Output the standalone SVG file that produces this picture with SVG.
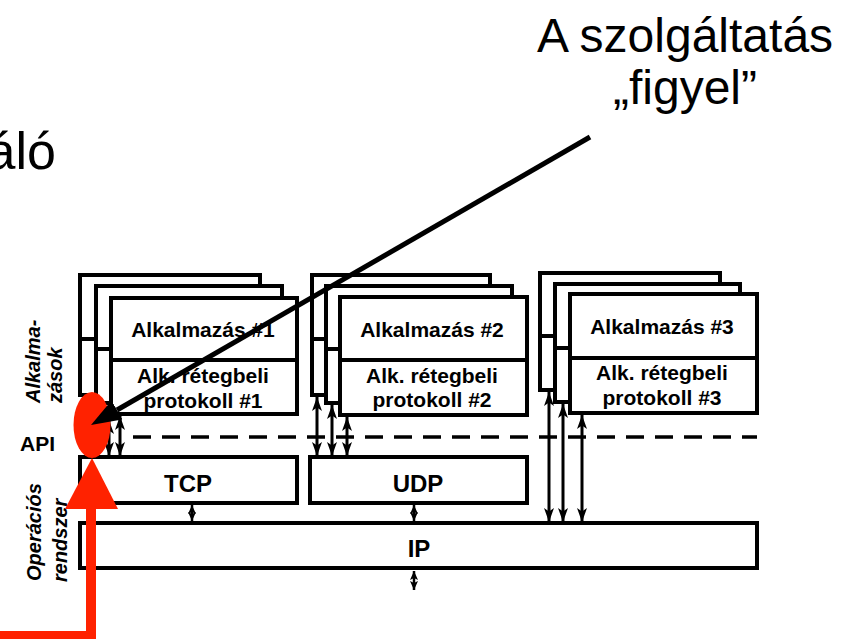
<svg xmlns="http://www.w3.org/2000/svg" width="845" height="639" viewBox="0 0 845 639">
<style>
.box{fill:#fff;stroke:#000;stroke-width:4}
.div{stroke:#000;stroke-width:4}
.lbl{font-family:"Liberation Sans",Arial,sans-serif;font-weight:bold;font-size:21px;text-anchor:middle;fill:#000}
.lay{font-family:"Liberation Sans",Arial,sans-serif;font-weight:bold;font-size:24px;text-anchor:middle;fill:#000}
.side{font-family:"Liberation Sans",Arial,sans-serif;font-weight:bold;font-style:italic;font-size:20px;fill:#000}
.big{font-family:"Liberation Sans",Arial,sans-serif;font-size:48px;fill:#000}
.va{stroke:#000;stroke-width:3;fill:none;marker-start:url(#ah);marker-end:url(#ah)}
.sa{stroke:#000;stroke-width:2.5;fill:none;marker-start:url(#sh);marker-end:url(#sh)}
</style>
<defs>
<marker id="ah" viewBox="0 0 14 10" refX="14" refY="5" markerWidth="14" markerHeight="10" markerUnits="userSpaceOnUse" orient="auto-start-reverse">
<path d="M0,0 L14,5 L0,10 L3.5,5 z" fill="#000"/>
</marker>
<marker id="sh" viewBox="0 0 9 8" refX="9" refY="4" markerWidth="9" markerHeight="8" markerUnits="userSpaceOnUse" orient="auto-start-reverse">
<path d="M0,0 L9,4 L0,8 L2,4 z" fill="#000"/>
</marker>
<marker id="bh" viewBox="0 0 30 22" refX="0" refY="11" markerWidth="30" markerHeight="22" markerUnits="userSpaceOnUse" orient="auto">
<path d="M0,0 L30,11 L0,22 z" fill="#000"/>
</marker>
</defs>
<rect width="845" height="639" fill="#fff"/>

<g id="title">
<text class="big" x="685" y="52" text-anchor="middle">A szolgáltatás</text>
<text class="big" x="685" y="104" text-anchor="middle">„figyel”</text>
</g>
<g id="partial">
<text class="big" x="56" y="169" text-anchor="end" style="font-size:52px">áló</text>
</g>

<g id="side-labels">
<text class="side" transform="translate(40,403) rotate(-90)">Alkalma-</text>
<text class="side" transform="translate(62,403) rotate(-90)">zások</text>
<text class="side" x="20" y="451" style="font-style:normal;font-size:21px">API</text>
<text class="side" transform="translate(41,581) rotate(-90)">Operációs</text>
<text class="side" transform="translate(67,582) rotate(-90)">rendszer</text>
</g>

<g id="app1">
<rect class="box" x="80" y="275" width="180" height="120"/>
<line class="div" x1="80" y1="339" x2="96" y2="339"/>
<rect class="box" x="96" y="286" width="186" height="117"/>
<line class="div" x1="96" y1="349" x2="111" y2="349"/>
<rect class="box" x="111" y="298" width="186" height="116"/>
<line class="div" x1="111" y1="360" x2="297" y2="360"/>
<text class="lbl" x="203" y="337">Alkalmazás #1</text>
<text class="lbl" x="203" y="383">Alk. rétegbeli</text>
<text class="lbl" x="203" y="408">protokoll #1</text>
</g>

<g id="app2">
<rect class="box" x="312" y="275" width="178" height="120"/>
<line class="div" x1="312" y1="339" x2="326" y2="339"/>
<rect class="box" x="326" y="286" width="186" height="117"/>
<line class="div" x1="326" y1="349" x2="340" y2="349"/>
<rect class="box" x="340" y="297" width="187" height="118"/>
<line class="div" x1="340" y1="360" x2="527" y2="360"/>
<text class="lbl" x="432" y="337">Alkalmazás #2</text>
<text class="lbl" x="432" y="383">Alk. rétegbeli</text>
<text class="lbl" x="432" y="407">protokoll #2</text>
</g>

<g id="app3">
<rect class="box" x="540" y="273" width="180" height="117"/>
<line class="div" x1="540" y1="336" x2="555" y2="336"/>
<rect class="box" x="555" y="284" width="185" height="118"/>
<line class="div" x1="555" y1="348" x2="570" y2="348"/>
<rect class="box" x="570" y="294" width="187" height="119"/>
<line class="div" x1="570" y1="358" x2="757" y2="358"/>
<text class="lbl" x="662" y="334">Alkalmazás #3</text>
<text class="lbl" x="662" y="380">Alk. rétegbeli</text>
<text class="lbl" x="662" y="405">protokoll #3</text>
</g>

<g id="api-line">
<line x1="133" y1="437" x2="757" y2="437" stroke="#000" stroke-width="3.5" stroke-dasharray="18 11"/>
</g>

<g id="tcp">
<rect class="box" x="80" y="457" width="217" height="46"/>
<text class="lay" x="188" y="492">TCP</text>
</g>
<g id="udp">
<rect class="box" x="310" y="457" width="217" height="46"/>
<text class="lay" x="418" y="492">UDP</text>
</g>
<g id="ip">
<rect class="box" x="80" y="523" width="677" height="45"/>
<text class="lay" x="419" y="557">IP</text>
</g>

<g id="connectors">
<line class="va" x1="109" y1="420" x2="109" y2="456"/>
<line class="va" x1="120" y1="416" x2="120" y2="456"/>
<line class="va" x1="317" y1="397" x2="317" y2="456"/>
<line class="va" x1="332" y1="405" x2="332" y2="456"/>
<line class="va" x1="347" y1="417" x2="347" y2="456"/>
<line class="va" x1="549" y1="392" x2="549" y2="522"/>
<line class="va" x1="563" y1="404" x2="563" y2="522"/>
<line class="va" x1="582" y1="415" x2="582" y2="522"/>
<line class="sa" x1="192" y1="505" x2="192" y2="521"/>
<line class="sa" x1="414" y1="505" x2="414" y2="521"/>
<line class="sa" x1="414" y1="571" x2="414" y2="590"/>
</g>

<g id="listen-point">
<ellipse cx="92" cy="425" rx="18.5" ry="33" fill="#FF2200"/>
</g>

<g id="red-arrow">
<polyline points="0,636 91,636 91,505" fill="none" stroke="#FF2200" stroke-width="10"/>
<polygon points="65,509 118,509 92,458" fill="#FF2200"/>
</g>

<g id="pointer">
<line x1="590" y1="137" x2="117" y2="410" stroke="#000" stroke-width="5" marker-end="url(#bh)"/>
</g>
</svg>
